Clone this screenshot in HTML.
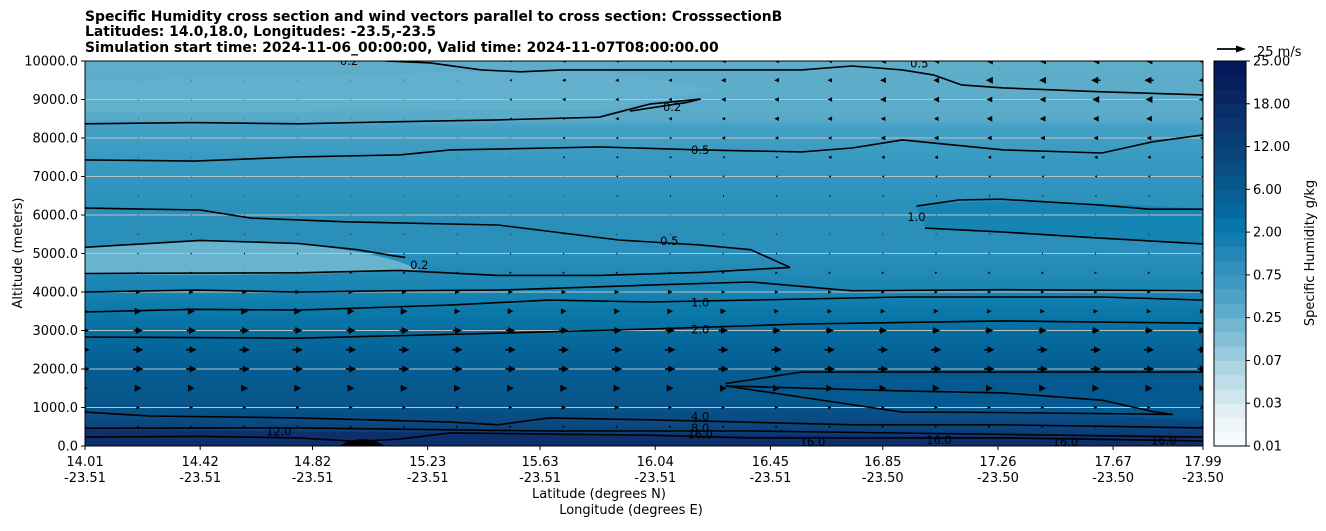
<!DOCTYPE html>
<html><head><meta charset="utf-8"><style>
body{margin:0;background:#fff;font-family:"Liberation Sans",sans-serif;}
svg text{font-family:"DejaVu Sans","Liberation Sans",sans-serif;}
</style></head><body>
<svg id="c" width="1326" height="526" viewBox="0 0 1326 526" xmlns="http://www.w3.org/2000/svg">
<defs>
<linearGradient id="bg" x1="0" y1="0" x2="0" y2="1">
<stop offset="0" stop-color="#5eaecb"/><stop offset="0.15" stop-color="#5aabc9"/>
<stop offset="0.17" stop-color="#45a0c5"/><stop offset="0.28" stop-color="#3599c1"/>
<stop offset="0.38" stop-color="#2a91bb"/><stop offset="0.5" stop-color="#2a8fba"/>
<stop offset="0.6" stop-color="#1884b2"/><stop offset="0.65" stop-color="#0a79a9"/>
<stop offset="0.72" stop-color="#066a9d"/><stop offset="0.8" stop-color="#055d93"/>
<stop offset="0.9" stop-color="#085489"/><stop offset="0.95" stop-color="#0b457e"/>
<stop offset="1" stop-color="#0d2c6a"/></linearGradient>
<clipPath id="pc"><rect x="85" y="61" width="1118" height="385"/></clipPath>
</defs>
<g id="plot" clip-path="url(#pc)">
<rect x="85" y="61" width="1118" height="385" fill="url(#bg)"/>
<path d="M85,80 L600,70 L720,90 L600,110 L85,112Z" fill="#66b3ce" opacity="0.6"/>
<path d="M85,248 C200,236 330,240 400,262 L420,270 C300,276 150,275 85,274Z" fill="#68b4cf"/>
<path d="M916,206 C960,198 1100,202 1203,209 L1203,244 C1100,238 1000,232 926,228Z" fill="#1586b4"/>
<path d="M720,384 C800,372 1100,370 1203,372 L1203,420 L720,400Z" fill="#045a90"/>
<path d="M85,430 L1203,438 L1203,446 L85,446Z" fill="#0d2f6c"/>
<g id="grid"></g><g id="contours"></g><g id="arrows"></g>
<path d="M340,446 C350,438 370,436 385,446Z" fill="#000"/>
</g>
<rect x="85" y="61" width="1118" height="385" fill="none" stroke="#000" stroke-width="1"/>
<g id="axes"></g><g id="cbar"></g>
<text x="85" y="21" font-size="13.9" font-weight="bold">Specific Humidity cross section and wind vectors parallel to cross section: CrosssectionB</text>
<text x="85" y="36" font-size="13.9" font-weight="bold">Latitudes: 14.0,18.0, Longitudes: -23.5,-23.5</text>
<text x="85" y="52" font-size="13.9" font-weight="bold">Simulation start time: 2024-11-06_00:00:00, Valid time: 2024-11-07T08:00:00.00</text>
<text x="599" y="498" font-size="13" text-anchor="middle">Latitude (degrees N)</text>
<text x="631" y="514" font-size="13" text-anchor="middle">Longitude (degrees E)</text>
<text transform="translate(22,253) rotate(-90)" font-size="13" text-anchor="middle">Altitude (meters)</text>
<text transform="translate(1314,253) rotate(-90)" font-size="13" text-anchor="middle">Specific Humidity g/kg</text>
<g><line x1="1217" y1="49" x2="1238" y2="49" stroke="#000" stroke-width="1.8"/><path d="M1246,49 L1236,45.5 L1236,52.5Z" fill="#000"/></g>
<text x="1257" y="56" font-size="13">25 m/s</text>
</svg>
<script>
const xTickLat=["14.01","14.42","14.82","15.23","15.63","16.04","16.45","16.85","17.26","17.67","17.99"];
const xTickLon=["-23.51","-23.51","-23.51","-23.51","-23.51","-23.51","-23.51","-23.50","-23.50","-23.50","-23.50"];
const yTicks=[0,1000,2000,3000,4000,5000,6000,7000,8000,9000,10000];
const cbTicks=["0.01","0.03","0.07","0.25","0.75","2.00","6.00","12.00","18.00","25.00"];
const windAlt=[500,1000,1500,2000,2500,3000,3500,4000,4500,5000,5500,6000,6500,7000,7500,8000,8500,9000,9500,10000];
// u wind (m/s) per row, 22 columns
const windU=[
[2,2,2,2,2,2,2,2,2,2,2,2,2,2,2,2,2,2,2,2,2,2],
[3,3,3,3,3,3,3,3,3,4,4,3,3,3,3,3,3,3,3,3,3,3],
[5,6,6,6,6,6,6,6,6,6,6,6,6,6,6,6,6,6,6,6,6,5],
[8,9,9,9,9,9,9,9,9,9,9,9,9,9,9,9,9,9,9,9,9,8],
[8,9,9,9,9,9,9,9,9,9,9,9,9,9,9,9,9,9,9,9,9,8],
[7,8,8,8,8,8,8,8,8,8,8,8,8,7,7,7,7,7,7,7,7,7],
[5,6,6,6,6,6,6,5,5,5,5,5,5,4,4,4,4,4,4,4,4,4],
[3,4,4,4,4,4,4,4,4,4,4,4,3,3,3,3,3,3,3,3,3,3],
[2,2,2,2,2,2,2,2,2,2,2,2,2,2,2,2,2,2,2,2,2,2],
[1,1,1,1,1,1,1,1,1,1,1,1,1,1,1,1,1,1,1,1,1,1],
[0.6,0.6,0.6,0.6,0.6,0.6,0.6,0.6,0.6,0.6,0.6,0.6,0.6,0.6,0.6,0.6,0.6,0.6,0.6,0.6,0.6,0.6],
[0.4,0.4,0.4,0.4,0.4,0.4,0.4,0.4,0.4,0.4,0.4,0.4,0.4,0.4,0.4,0.4,0.4,0.4,0.4,0.4,0.4,0.4],
[0.4,0.4,0.4,0.4,0.4,0.4,0.4,0.4,0.4,0.4,-1,-1,-1,-1,-1,-1,-1,-1,-1,-1,-1,-1],
[0.3,0.3,0.3,0.3,0.3,0.3,0.3,0.3,0.3,0.3,-1.5,-1.5,-1.5,-1.5,-2,-2,-2,-2,-2,-2,-2,-2],
[0.3,0.3,0.3,0.3,0.3,0.3,0.3,0.3,0.3,-1.5,-2,-2,-2,-2,-3,-3,-3,-3,-3,-3,-3,-3],
[0.3,0.3,0.3,0.3,0.3,0.3,0.3,0.3,0.3,-2,-2,-2,-3,-3,-3,-4,-4,-4,-4,-4,-4,-4],
[0.3,0.3,0.3,0.3,0.3,0.3,0.3,0.3,-2,-2,-3,-3,-3,-4,-4,-4,-4,-5,-5,-5,-5,-5],
[0.3,0.3,0.3,0.3,0.3,0.3,0.3,0.3,-2,-3,-3,-3,-4,-4,-4,-5,-5,-5,-5,-6,-6,-6],
[0.3,0.3,0.3,0.3,0.3,0.3,0.3,0.3,-2,-3,-3,-3,-4,-4,-4,-5,-5,-6,-6,-8,-8,-6],
[0.3,0.3,0.3,0.3,0.3,0.3,0.3,0.3,-2,-3,-3,-3,-4,-4,-4,-5,-5,-6,-6,-6,-6,-6]];
// contours: [lat, alt] pairs
const contour1=[[15.08,10000],[15.24,9950],[15.42,9770],[15.56,9720],[15.71,9770],[15.92,9770],[16.2,9770],[16.56,9770],[16.74,9870],[16.92,9770],[17.03,9640],[17.13,9380],[17.28,9300],[17.63,9200],[17.99,9120]];
const contour2=[[14.01,8370],[14.4,8400],[14.77,8370],[15.1,8420],[15.48,8470],[15.84,8540],[16.02,8880],[16.2,9010],[16.15,8920],[15.95,8700]];
const contour3=[[14.01,7430],[14.4,7400],[14.77,7510],[15.13,7560],[15.31,7690],[15.66,7740],[15.84,7770],[16.2,7690],[16.56,7640],[16.74,7740],[16.92,7950],[17.28,7690],[17.63,7610],[17.81,7900],[17.99,8080]];
const contour4=[[14.01,6180],[14.42,6130],[14.6,5920],[14.95,5820],[15.48,5740],[15.91,5350],[16.2,5220],[16.38,5100],[16.52,4640]];
const contour5=[[16.97,6230],[17.12,6390],[17.27,6410],[17.62,6260],[17.8,6150],[17.99,6150]];
const contour5b=[[17.0,5660],[17.27,5560],[17.62,5400],[17.99,5250]];
const contour6=[[14.01,5160],[14.42,5340],[14.77,5260],[14.98,5100],[15.1,4950],[15.15,4900]];
const contour7=[[14.01,4480],[14.77,4500],[15.13,4560],[15.48,4430],[15.84,4430],[16.2,4510],[16.52,4640]];
const contour8=[[14.01,4000],[14.4,4050],[14.77,4000],[15.1,4030],[15.48,4050],[16.02,4180],[16.38,4260],[16.74,4030],[17.28,4060],[17.99,4030]];
const contour9=[[14.01,3480],[14.4,3550],[14.77,3530],[15.31,3660],[15.66,3790],[16.02,3740],[16.38,3790],[16.92,3870],[17.63,3870],[17.99,3790]];
const contour10=[[14.01,2830],[14.77,2800],[15.48,2930],[16.02,3040],[16.56,3170],[17.28,3250],[17.99,3190]];
const contour11=[[16.29,1620],[16.56,1920],[16.92,1920],[17.63,1920],[17.99,1920]];
const contour12=[[16.29,1560],[16.92,1430],[17.28,1380],[17.63,1190],[17.81,900],[17.88,820],[17.28,870],[16.92,880],[16.29,1560]];
const contour13=[[14.01,880],[14.24,780],[14.77,730],[15.31,620],[15.48,550],[15.66,730],[16.02,680],[16.74,550],[17.28,550],[17.99,470]];
const contour14=[[14.01,460],[14.77,470],[15.31,420],[15.66,390],[16.38,390],[17.99,230]];
const contour15=[[14.01,230],[14.42,250],[14.77,210],[14.98,120],[15.13,180],[15.31,340],[16.02,280],[16.38,210],[17.28,210],[17.99,130]];
const contourLabels=[["0.2",14.95,10000],["0.2",16.1,8800],["0.5",16.2,7690],["0.5",16.09,5330],["0.2",15.2,4700],["1.0",16.2,3730],["2.0",16.2,3020],["4.0",16.2,760],["8.0",16.2,470],["16.0",16.2,300],["12.0",14.7,380],["1.0",16.97,5950],["0.5",16.98,9930],["16.0",16.6,110],["16.0",17.05,150],["16.0",17.5,110],["16.0",17.85,140]];
const cbColors=["#f7fbff","#eef5f8","#e1eef3","#d0e6ee","#bedde8","#aed4e2","#98cbdd","#84bfd6","#72b6d0","#5eaccb","#4ea2c5","#3f99c0","#3191bb","#2488b6","#147db0","#0574a8","#06699e","#075f95","#08568c","#094d83","#0a457c","#0a3d75","#0b366f","#0a2e68","#092662","#081e5c","#06165a"];
const ns="http://www.w3.org/2000/svg";
const X=lat=>85+(lat-14.01)/3.98*1118;
const Y=alt=>446-alt/10000*385;
function mk(t,a,p){const e=document.createElementNS(ns,t);for(const k in a)e.setAttribute(k,a[k]);p.appendChild(e);return e;}
const grid=document.getElementById('grid'),axes=document.getElementById('axes');
yTicks.forEach((v,i)=>{
 if(v>0&&v<10000){const g=mk('line',{x1:85,x2:1203,y1:Y(v),y2:Y(v),stroke:'#c0c0c0','stroke-width':1},grid);
 
 }
 const t=mk('line',{x1:81,x2:85,y1:Y(v),y2:Y(v),stroke:'#000'},axes);
 
 
 const l=mk('text',{x:78,y:Y(v)+4.5,'font-size':13,'text-anchor':'end'},axes);l.textContent=v.toFixed(1);
 
 
});
xTickLat.forEach((s,i)=>{
 const x=X(parseFloat(s));
 const t=mk('line',{x1:x,x2:x,y1:446,y2:450,stroke:'#000'},axes);
 
 
 const l=mk('text',{x:x,y:466,'font-size':13,'text-anchor':'middle'},axes);l.textContent=s;
 
 
 const l2=mk('text',{x:x,y:482,'font-size':13,'text-anchor':'middle'},axes);l2.textContent=xTickLon[i];
 
 
});
const cg=document.getElementById('contours');
[contour1,contour2,contour3,contour4,contour5,contour5b,contour6,contour7,contour8,contour9,contour10,contour11,contour12,contour13,contour14,contour15].forEach(c=>{
 const p=mk('polyline',{points:c.map(q=>X(q[0]).toFixed(1)+','+Y(q[1]).toFixed(1)).join(' '),fill:'none',stroke:'#000','stroke-width':1.6,'stroke-linejoin':'round'},cg);
 
 
});
contourLabels.forEach(c=>{
 const x=X(c[1]),y=Y(c[2]);
 const t=mk('text',{x:x,y:y+4,'font-size':11.5,'text-anchor':'middle',fill:'#000',stroke:'none'},cg);t.textContent=c[0];
 
 
});
const ag=document.getElementById('arrows');
windAlt.forEach((alt,r)=>{
 windU[r].forEach((u,ci)=>{
  const x0=85+ci*53.2,y=Y(alt);
  const L=Math.abs(u)*1.15,d=Math.sign(u)||1;
  const hl=Math.min(L,7),hw=Math.min(3.5,Math.max(1.2,L*0.5));
  const tip=x0+d*L/2,tail=x0-d*L/2,base=tip-d*hl;
  const g=mk('g',{},ag);
  
  
  if(L>hl)mk('line',{x1:tail,y1:y,x2:base,y2:y,stroke:'#000','stroke-width':1.6},g);
  mk('path',{d:`M${tip},${y} L${base},${y-hw} L${base},${y+hw}Z`,fill:'#000'},g);
 });
});
const cb=document.getElementById('cbar');
const n=cbColors.length,h=385/n;
cbColors.forEach((c,i)=>{const r=mk('rect',{x:1214,y:446-(i+1)*h,width:32,height:h+0.5,fill:c},cb);
 
 });
mk('rect',{x:1214,y:61,width:32,height:385,fill:'none',stroke:'#000','stroke-width':1},cb);
cbTicks.forEach((s,i)=>{const y=446-i*385/9;
 mk('line',{x1:1246,x2:1250,y1:y,y2:y,stroke:'#000'},cb);
 const t=mk('text',{x:1253,y:y+4.5,'font-size':13},cb);t.textContent=s;
 
 });
</script>
</body></html>
